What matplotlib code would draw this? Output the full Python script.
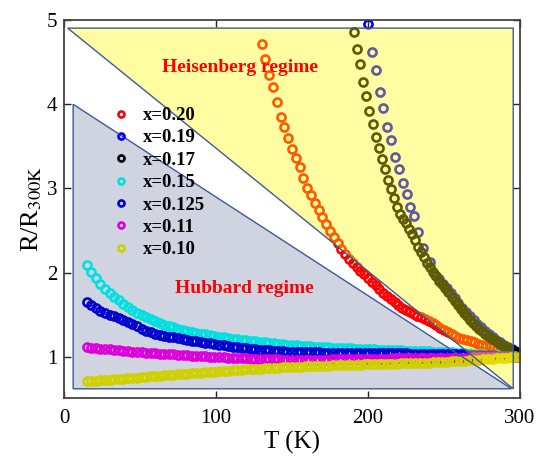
import matplotlib
matplotlib.use("Agg")
import matplotlib.pyplot as plt
from matplotlib.patches import Polygon

plt.rcParams['font.family'] = ['Liberation Serif', 'DejaVu Serif']
plt.rcParams['mathtext.fontset'] = 'stix'

# ---------------- data ----------------
T_low = [15, 18, 21, 24, 27, 30, 33, 36, 39, 42, 45, 48, 51, 54, 57, 60, 63, 66, 69, 72,
         75, 78, 81, 84, 87, 90, 93, 96, 99, 102, 105, 108, 111, 114, 117, 120, 123, 126, 129, 132,
         135, 138, 141, 144, 147, 150, 153, 156, 159, 162, 165, 168, 171, 174, 177, 180, 183, 186, 189, 192,
         195, 198, 201, 204, 207, 210, 213, 216, 219, 222, 225, 228, 231, 234, 237, 240, 243, 246, 249, 252,
         255, 258, 261, 264, 267, 270, 273, 276, 279, 282, 285, 288, 291, 294, 297, 300]

R_015 = [2.09, 2.01, 1.94, 1.87, 1.81, 1.76, 1.715, 1.67, 1.63, 1.59, 1.555, 1.525, 1.495, 1.47, 1.445, 1.42, 1.40, 1.38, 1.365, 1.35,
         1.335, 1.32, 1.31, 1.295, 1.285, 1.275, 1.265, 1.255, 1.245, 1.238, 1.23, 1.222, 1.215, 1.208, 1.20, 1.194, 1.188, 1.182, 1.176, 1.17,
         1.165, 1.16, 1.155, 1.15, 1.146, 1.142, 1.138, 1.134, 1.13, 1.126, 1.122, 1.119, 1.116, 1.113, 1.11, 1.107, 1.104, 1.101, 1.099, 1.096,
         1.094, 1.092, 1.09, 1.088, 1.086, 1.084, 1.082, 1.08, 1.078, 1.076, 1.074, 1.072, 1.07, 1.068, 1.066, 1.064, 1.062, 1.06, 1.058, 1.055,
         1.053, 1.05, 1.047, 1.044, 1.041, 1.038, 1.035, 1.031, 1.027, 1.023, 1.019, 1.015, 1.011, 1.007, 1.004, 1.0]

R_0125 = [1.65, 1.62, 1.575, 1.55, 1.525, 1.50, 1.48, 1.46, 1.44, 1.415, 1.39, 1.36, 1.33, 1.305, 1.29, 1.275, 1.262, 1.25, 1.24, 1.23,
          1.22, 1.21, 1.20, 1.19, 1.182, 1.175, 1.168, 1.16, 1.152, 1.145, 1.138, 1.13, 1.122, 1.115, 1.108, 1.10, 1.095, 1.09, 1.085, 1.08,
          1.076, 1.072, 1.068, 1.065, 1.062, 1.06, 1.058, 1.056, 1.055, 1.054, 1.053, 1.052, 1.051, 1.05, 1.049, 1.048, 1.047, 1.046, 1.046, 1.045,
          1.045, 1.044, 1.044, 1.043, 1.043, 1.042, 1.042, 1.041, 1.041, 1.04, 1.04, 1.039, 1.039, 1.038, 1.038, 1.037, 1.036, 1.035, 1.034, 1.033,
          1.032, 1.031, 1.03, 1.028, 1.027, 1.025, 1.023, 1.021, 1.019, 1.017, 1.015, 1.012, 1.009, 1.006, 1.003, 1.0]

R_011 = [1.115, 1.109, 1.103, 1.098, 1.092, 1.087, 1.081, 1.076, 1.07, 1.065, 1.059, 1.055, 1.052, 1.048, 1.045, 1.041, 1.038, 1.034, 1.031, 1.028,
         1.024, 1.021, 1.018, 1.014, 1.011, 1.008, 1.005, 1.002, 0.999, 0.996, 0.993, 0.99, 0.987, 0.985, 0.982, 0.98, 0.978, 0.976, 0.974, 0.972,
         0.97, 0.969, 0.968, 0.967, 0.966, 0.965, 0.965, 0.965, 0.965, 0.965, 0.966, 0.966, 0.967, 0.967, 0.968, 0.968, 0.969, 0.97, 0.971, 0.972,
         0.973, 0.974, 0.975, 0.976, 0.977, 0.978, 0.979, 0.98, 0.981, 0.982, 0.983, 0.984, 0.984, 0.985, 0.985, 0.986, 0.986, 0.987, 0.987, 0.988,
         0.988, 0.989, 0.99, 0.99, 0.991, 0.992, 0.993, 0.994, 0.995, 0.996, 0.997, 0.997, 0.998, 0.999, 1.0, 1.0]

R_010 = [0.71, 0.714, 0.718, 0.722, 0.726, 0.73, 0.734, 0.738, 0.742, 0.746, 0.75, 0.754, 0.758, 0.762, 0.766, 0.77, 0.774, 0.778, 0.782, 0.786,
         0.79, 0.794, 0.798, 0.802, 0.806, 0.81, 0.814, 0.818, 0.822, 0.826, 0.83, 0.834, 0.838, 0.842, 0.846, 0.85, 0.853, 0.856, 0.859, 0.862,
         0.865, 0.868, 0.871, 0.874, 0.877, 0.88, 0.882, 0.884, 0.886, 0.888, 0.89, 0.892, 0.894, 0.896, 0.898, 0.90, 0.902, 0.903, 0.905, 0.906,
         0.908, 0.909, 0.911, 0.912, 0.914, 0.915, 0.917, 0.918, 0.92, 0.921, 0.923, 0.924, 0.926, 0.927, 0.929, 0.93, 0.933, 0.936, 0.939, 0.942,
         0.945, 0.948, 0.951, 0.954, 0.957, 0.96, 0.964, 0.968, 0.972, 0.976, 0.98, 0.984, 0.988, 0.992, 0.996, 1.0]

T_020 = [130, 132.5, 135, 137.5, 140, 142.5, 145, 147.5, 150, 152.5, 155, 157.5, 160, 162.5, 165, 167.5, 170, 172.5, 175, 177.5,
         180, 182.5, 185, 187.5, 190, 192.5, 195, 197.5, 200, 202.5, 205, 207.5, 210, 212.5, 215, 217.5, 220, 222.5, 225, 227.5,
         230, 232.5, 235, 237.5, 240, 242.5, 245, 247.5, 250, 252.5, 255, 257.5, 260, 262.5, 265, 267.5, 270, 272.5, 275, 277.5,
         280, 282.5, 285, 287.5, 290, 292.5, 295, 297.5, 300]
R_020 = [4.72, 4.54, 4.35, 4.20, 4.03, 3.85, 3.725, 3.605, 3.47, 3.365, 3.255, 3.125, 3.005, 2.92, 2.825, 2.74, 2.655, 2.58, 2.50, 2.42,
         2.35, 2.275, 2.22, 2.165, 2.115, 2.07, 2.025, 1.98, 1.935, 1.89, 1.85, 1.80, 1.76, 1.725, 1.69, 1.65, 1.615, 1.585, 1.555, 1.53,
         1.505, 1.485, 1.468, 1.45, 1.428, 1.405, 1.378, 1.348, 1.32, 1.295, 1.27, 1.248, 1.228, 1.213, 1.20, 1.186, 1.172, 1.158, 1.145, 1.134,
         1.124, 1.112, 1.10, 1.088, 1.078, 1.069, 1.06, 1.052, 1.045]

T_019 = [200.2, 202.4, 205.3, 207.9, 210.1, 212.7, 215.1, 217.8, 220.4, 222.8, 225.5, 227.6, 230.3, 233.1, 236.4, 240.8, 244.1,
         247, 249.5, 252, 254.5, 257, 259.5, 262, 264.5, 267, 269.5, 272, 274.5, 277, 279.5, 282, 284.5, 287, 289.5, 292, 294.5, 297, 299.5]
R_019 = [4.95, 4.62, 4.41, 4.15, 3.96, 3.73, 3.58, 3.37, 3.23, 3.06, 2.94, 2.78, 2.67, 2.48, 2.29, 2.13, 1.97,
         1.925, 1.87, 1.82, 1.76, 1.70, 1.64, 1.585, 1.53, 1.48, 1.435, 1.39, 1.35, 1.31, 1.27, 1.235, 1.20, 1.17, 1.14, 1.115, 1.09, 1.07, 1.05]

T_017 = [191, 193, 195, 197, 199, 201, 203, 205, 207, 209, 211, 213, 215, 217, 219, 221, 223, 225, 227, 229,
         231, 233, 235, 237, 239, 241, 243, 245, 247, 249, 251, 253, 255, 257, 259, 261, 263, 265, 267, 269,
         271, 273, 275, 277, 279, 281, 283, 285, 287, 289, 291, 293, 295, 297, 299]
R_017 = [4.86, 4.66, 4.48, 4.27, 4.10, 3.92, 3.77, 3.615, 3.48, 3.35, 3.23, 3.10, 2.99, 2.885, 2.78, 2.70, 2.635, 2.585, 2.52, 2.455,
         2.39, 2.31, 2.245, 2.18, 2.12, 2.065, 2.01, 1.955, 1.90, 1.86, 1.815, 1.77, 1.71, 1.66, 1.615, 1.57, 1.525, 1.48, 1.44, 1.405,
         1.37, 1.335, 1.305, 1.275, 1.245, 1.22, 1.195, 1.17, 1.148, 1.13, 1.112, 1.095, 1.078, 1.062, 1.05]

# regime regions (T, R) vertices
heis_T = [2.4, 295.6, 295.6]
heis_R = [4.905, 4.905, 0.62]
hub_T = [6, 6, 294.5]
hub_R = [4.0, 0.62, 0.62]

# ---------------- figure ----------------
fig = plt.figure(figsize=(5.36, 4.57), dpi=100)
ax = fig.add_axes([0.1194, 0.129, 0.8506, 0.827])

ax.set_xlim(0, 300)
ax.set_ylim(0.51, 5.0)

edge_c = '#3d5a98'
hub = Polygon(list(zip(hub_T, hub_R)), closed=True,
              facecolor='#cfd4e0', edgecolor='none', zorder=1)
ax.add_patch(hub)

mk = dict(marker='o', linestyle='none', markersize=5.8, markeredgewidth=1.9,
          markerfacecolor='none')
series = [
    (T_020, R_020, '#ff0000', 'x=0.20'),
    (T_019, R_019, '#0000ff', 'x=0.19'),
    (T_017, R_017, '#000000', 'x=0.17'),
    (T_low, R_015, '#00e0e0', 'x=0.15'),
    (T_low, R_0125, '#0000d0', 'x=0.125'),
    (T_low, R_011, '#dd00dd', 'x=0.11'),
    (T_low, R_010, '#d0d000', 'x=0.10'),
]
handles = []
for T, R, c, lab in series:
    h, = ax.plot(T, R, markeredgecolor=c, label=lab, zorder=2, **mk)
    handles.append(h)

heis = Polygon(list(zip(heis_T, heis_R)), closed=True,
               facecolor=(1.0, 0.97, 0.0, 0.37), edgecolor='none', zorder=3)
ax.add_patch(heis)
ax.add_patch(Polygon(list(zip(heis_T, heis_R)), closed=True, fill=False,
                     edgecolor=edge_c, linewidth=1.0, zorder=4))
ax.add_patch(Polygon(list(zip(hub_T, hub_R)), closed=True, fill=False,
                     edgecolor=edge_c, linewidth=1.0, zorder=4))

ax.text(116, 4.44, 'Heisenberg regime', color='#ff0000', fontsize=14,
        fontweight='bold', ha='center', va='center', zorder=6)
ax.text(119, 1.81, 'Hubbard regime', color='#ff0000', fontsize=14,
        fontweight='bold', ha='center', va='center', zorder=6)

leg = ax.legend(handles=handles, loc='upper left', bbox_to_anchor=(0.095, 0.79),
                frameon=False, handlelength=0.7, handletextpad=0.8,
                labelspacing=0.28, borderaxespad=0.0,
                prop={'family': 'Liberation Serif', 'weight': 'bold', 'size': 13.5},
                markerscale=0.75)
leg.set_zorder(7)

ax.set_xticks([0, 100, 200, 300])
ax.set_yticks([1, 2, 3, 4, 5])
ax.tick_params(direction='in', length=5, width=1.0, top=True, right=True,
               labelsize=15, colors='#222222', labelcolor='black')
ax.tick_params(axis='x', pad=8)
ax.tick_params(axis='y', pad=5)
for s in ax.spines.values():
    s.set_color('#444444')
    s.set_linewidth(1.3)

ax.set_xlabel('T (K)', fontsize=18, labelpad=2)
ax.set_ylabel(r'R/R$_{\mathrm{300K}}$', fontsize=19, labelpad=2)

fig.savefig('out.png', dpi=100)
